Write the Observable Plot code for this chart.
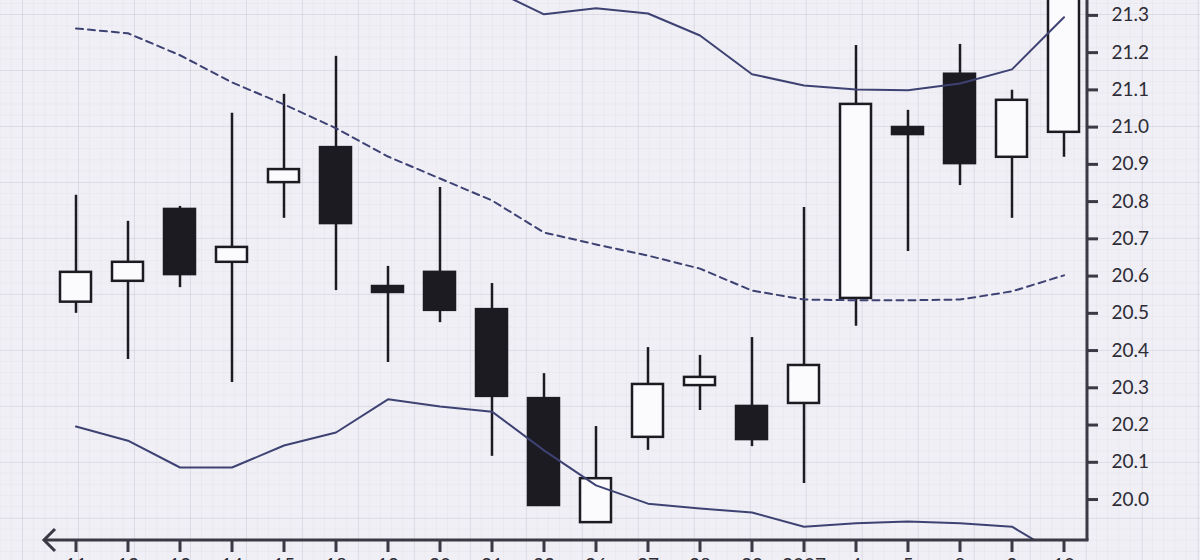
<!DOCTYPE html>
<html>
<head>
<meta charset="utf-8">
<script src="https://cdn.jsdelivr.net/npm/d3@7"></script>
<script src="https://cdn.jsdelivr.net/npm/@observablehq/plot@0.6"></script>
<style>
  html, body { margin: 0; padding: 0; width: 1200px; height: 560px; overflow: hidden; }
  body {
    background-color: #f0eff5;
    background-image:
      linear-gradient(to right, rgba(60,55,90,0.08) 1px, transparent 1px),
      linear-gradient(to bottom, rgba(60,55,90,0.08) 1px, transparent 1px),
      linear-gradient(to right, rgba(60,55,90,0.03) 1px, transparent 1px),
      linear-gradient(to bottom, rgba(60,55,90,0.03) 1px, transparent 1px);
    background-size: 56px 56px, 56px 56px, 11.2px 11.2px, 11.2px 11.2px;
    background-position: 22px 14px, 22px 14px, 22px 14px, 22px 14px;
    font-family: Lato, "Open Sans", sans-serif;
  }
  #chart svg { display: block; }
</style>
</head>
<body>
<div id="chart"></div>
<script>
// Trading days (Dec 2006 – Jan 2007)
const dates  = ["11","12","13","14","15","18","19","20","21","22","26","27","28","29","2007","4","5","8","9","10"];
const open   = [20.53, 20.586, 20.779, 20.637, 20.851, 20.945, 20.572, 20.61, 20.51, 20.271, 19.938, 20.167, 20.306, 20.25, 20.258, 20.54, 20.999, 21.142, 20.919, 20.986];
const close  = [20.61, 20.637, 20.604, 20.677, 20.886, 20.741, 20.556, 20.508, 20.277, 19.984, 20.056, 20.309, 20.328, 20.161, 20.36, 21.061, 20.98, 20.902, 21.072, 21.45];
const high   = [20.817, 20.747, 20.787, 21.037, 21.088, 21.19, 20.626, 20.838, 20.58, 20.338, 20.196, 20.408, 20.387, 20.435, 20.784, 21.219, 21.045, 21.222, 21.099, 21.5];
const low    = [20.50, 20.376, 20.569, 20.314, 20.755, 20.561, 20.368, 20.475, 20.116, 19.984, 19.938, 20.132, 20.239, 20.142, 20.043, 20.465, 20.666, 20.843, 20.755, 20.919];
const upper  = [22.334, 22.346, 22.30, 22.154, 21.977, 21.814, 21.573, 21.474, 21.37, 21.303, 21.319, 21.305, 21.246, 21.142, 21.112, 21.101, 21.099, 21.117, 21.155, 21.295];
const middle = [21.265, 21.252, 21.193, 21.12, 21.061, 20.997, 20.921, 20.862, 20.803, 20.717, 20.685, 20.655, 20.62, 20.561, 20.537, 20.535, 20.535, 20.537, 20.559, 20.602];
const lower  = [20.196, 20.158, 20.086, 20.086, 20.145, 20.18, 20.269, 20.25, 20.236, 20.132, 20.038, 19.989, 19.976, 19.965, 19.927, 19.936, 19.941, 19.936, 19.927, 19.844];
const yTicks = [20.0, 20.1, 20.2, 20.3, 20.4, 20.5, 20.6, 20.7, 20.8, 20.9, 21.0, 21.1, 21.2, 21.3];

const rows = dates.map((d, i) => ({
  date: d, open: open[i], close: close[i], high: high[i], low: low[i],
  upper: upper[i], middle: middle[i], lower: lower[i]
}));

const ink = "#1c1b22";
const bandColor = "#3e4273";
const W = 1200, H = 600, ML = 52, MR = 113, MT = 0, MB = 60;

const plot = Plot.plot({
  width: W, height: H,
  marginLeft: ML, marginRight: MR, marginTop: MT, marginBottom: MB,
  style: { background: "transparent", fontFamily: "Lato, 'Open Sans', sans-serif", color: "#2d2c36" },
  x: { type: "band", domain: dates, paddingInner: 0.4, paddingOuter: 0, label: null },
  y: { domain: [19.89, 21.34], label: null },
  marks: [
    Plot.ruleX(rows, { x: "date", y1: "low", y2: "high", stroke: ink, strokeWidth: 2.5, clip: true }),
    Plot.barY(rows, { x: "date", y1: "open", y2: "close",
      fill: d => d.close > d.open ? "#fbfafd" : ink, stroke: ink, strokeWidth: 2.5, clip: true }),
    Plot.line(rows, { x: "date", y: "upper", stroke: bandColor, strokeWidth: 2, clip: true }),
    Plot.line(rows, { x: "date", y: "lower", stroke: bandColor, strokeWidth: 2, clip: true }),
    Plot.line(rows, { x: "date", y: "middle", stroke: bandColor, strokeWidth: 2, strokeDasharray: "7,5", clip: true }),
    Plot.axisY(yTicks, { anchor: "right", tickSize: 10, tickPadding: 14, strokeWidth: 3, stroke: "#3a3944",
      fontSize: 19, tickFormat: d3.format(".1f"), fill: "#2d2c36" }),
    Plot.axisX({ tickSize: 12, tickPadding: 6, strokeWidth: 3, stroke: "#3a3944", fontSize: 19, fill: "#2d2c36" })
  ]
});

// decorative axis lines and arrow
const svg = d3.select(plot);
const yb = H - MB, xr = W - MR;
const g = svg.append("g").attr("fill", "none").attr("stroke", "#3a3944").attr("stroke-width", 3);
g.append("line").attr("x1", 44).attr("x2", xr + 1.5).attr("y1", yb).attr("y2", yb);
g.append("line").attr("x1", xr).attr("x2", xr).attr("y1", 0).attr("y2", yb);
g.append("path").attr("d", `M55,${yb - 11}L44,${yb}L55,${yb + 11}`).attr("stroke-linejoin", "miter");

document.getElementById("chart").appendChild(plot);
</script>
</body>
</html>
